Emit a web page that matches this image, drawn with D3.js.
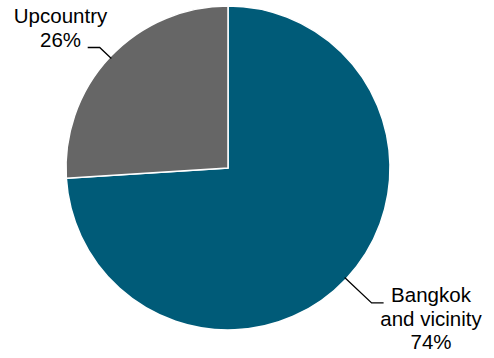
<!DOCTYPE html>
<html>
<head>
<meta charset="utf-8">
<script src="https://cdn.jsdelivr.net/npm/d3@7"></script>
<style>
  body { margin: 0; background: #fff; }
  text { font-family: "Liberation Sans", Arial, sans-serif; font-size: 20.5px; fill: #000; }
</style>
</head>
<body>
<div id="chart"></div>
<script>
// data
var categories = ["Bangkok and vicinity", "Upcountry"];
var shares = [74, 26];
var labelLines = [["Bangkok", "and vicinity", "74%"], ["Upcountry", "26%"]];
var colors = ["#005b78", "#666666"];

var width = 494;
var height = 358;
var cx = 228, cy = 168, radius = 162;

var svg = d3.select("#chart").append("svg")
    .attr("width", width)
    .attr("height", height);

var g = svg.append("g").attr("transform", "translate(" + cx + "," + cy + ")");

var pie = d3.pie().sort(null).value(function(d) { return d; });
var arcs = pie(shares);

var arc = d3.arc().innerRadius(0).outerRadius(radius);

g.selectAll("path.slice").data(arcs).enter().append("path")
    .attr("class", "slice")
    .attr("d", arc)
    .attr("fill", function(d, i) { return colors[i]; })
    .attr("stroke", "#fff")
    .attr("stroke-width", 1.5);

// label layout: elbow distance, horizontal run, text anchor point
var labelLayout = [
    { elbow: 197, run: 12, tx: 203, ty: 134, dy: 23.6 },
    { elbow: 176, run: -12, tx: -167.5, ty: -145.3, dy: 24 }
];

arcs.forEach(function(d, i) {
    var mid = (d.startAngle + d.endAngle) / 2;
    var lay = labelLayout[i];
    var p0 = [Math.sin(mid) * (radius - 2), -Math.cos(mid) * (radius - 2)];
    var p1 = [Math.sin(mid) * lay.elbow, -Math.cos(mid) * lay.elbow];
    var p2 = [p1[0] + lay.run, p1[1]];
    g.append("path")
        .attr("d", d3.line()([p0, p1, p2]))
        .attr("fill", "none")
        .attr("stroke", "#000")
        .attr("stroke-width", 1.3);

    var t = g.append("text")
        .attr("text-anchor", "middle");
    labelLines[i].forEach(function(line, j) {
        t.append("tspan")
            .attr("x", lay.tx)
            .attr("y", lay.ty + j * lay.dy)
            .text(line);
    });
});
</script>
</body>
</html>
